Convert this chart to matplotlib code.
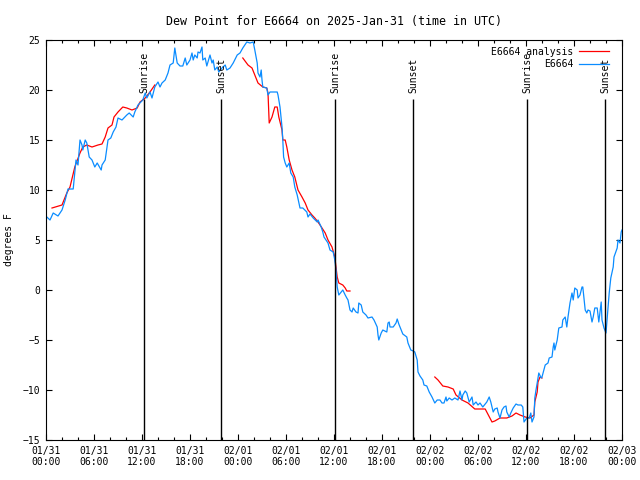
import numpy as np
import pandas as pd
import matplotlib
matplotlib.use('Agg')
import matplotlib.pyplot as plt
import matplotlib.dates as mdates

# hours after 2025-01-31 00:00 UTC, dew point in degrees F
obs_hours = [0.1, 0.5, 0.9, 1.5, 2.0, 2.4, 2.75, 3.4, 3.75, 4.0, 4.25, 4.5, 4.6, 4.9, 5.1, 5.4,
             5.75, 6.1, 6.4, 6.9, 7.0, 7.4, 7.75, 8.1, 8.4, 8.75, 9.0, 9.5, 10.1, 10.4, 10.9, 11.1,
             11.5, 12.1, 12.4, 12.6, 13.0, 13.25, 13.6, 14.0, 14.25, 14.5, 14.9, 15.25, 15.5, 15.9,
             16.1, 16.4, 16.75, 17.1, 17.4, 17.6, 18.0, 18.25, 18.4, 18.6, 18.9, 19.0, 19.25, 19.5,
             19.6, 19.9, 20.1, 20.25, 20.5, 20.75, 20.9, 21.1, 21.4, 21.6, 22.0, 22.4, 22.6, 23.0,
             23.4, 23.9, 24.25, 24.6, 25.1, 25.5, 25.9, 26.1, 26.4, 26.5, 26.75, 26.9, 27.0, 27.1,
             27.6, 27.75, 28.0, 28.4, 28.9, 29.0, 29.25, 29.5, 29.6, 29.7, 29.9, 30.1, 30.4, 30.6,
             30.9, 31.1, 31.4, 31.75, 32.1, 32.6, 32.75, 33.0, 33.4, 33.9, 34.0, 34.4, 34.6, 34.75,
             35.0, 35.25, 35.5, 35.9, 36.1, 36.25, 36.4, 36.6, 36.9, 37.1, 37.4, 37.6, 37.75, 38.0,
             38.25, 38.4, 38.75, 39.0, 39.1, 39.4, 39.6, 40.0, 40.25, 40.75, 41.0, 41.4, 41.5, 41.6,
             41.9, 42.1, 42.6, 42.75, 42.9, 43.0, 43.4, 43.75, 43.9, 44.1, 44.4, 44.6, 45.1, 45.25,
             45.6, 45.9, 46.1, 46.4, 46.5, 46.75, 47.1, 47.25, 47.6, 47.9, 48.25, 48.6, 48.9, 49.25,
             49.5, 49.75, 50.0, 50.1, 50.4, 50.75, 51.1, 51.5, 51.75, 52.0, 52.1, 52.4, 52.6, 52.9,
             53.25, 53.4, 53.75, 54.0, 54.25, 54.6, 55.1, 55.4, 55.6, 55.9, 56.1, 56.4, 56.5, 56.75,
             57.0, 57.25, 57.5, 57.6, 57.9, 58.1, 58.4, 58.75, 59.0, 59.4, 59.6, 59.75, 60.1, 60.4,
             60.6, 60.75, 61.0, 61.1, 61.25, 61.4, 61.6, 61.9, 62.0, 62.4, 62.75, 62.9, 63.25, 63.4,
             63.5, 63.6, 63.9, 64.1, 64.5, 64.6, 64.9, 65.1, 65.25, 65.5, 65.75, 65.9, 66.1, 66.4,
             66.5, 66.75, 67.0, 67.1, 67.4, 67.6, 67.75, 68.0, 68.25, 68.4, 68.6, 68.9, 69.1, 69.4,
             69.5, 69.75, 70.0, 70.1, 70.4, 70.6, 70.9, 71.0, 71.4, 71.5, 71.75, 71.9, 72.0]
obs_dewpt = [7.3, 7.0, 7.7, 7.4, 8.0, 9.0, 10.1, 10.1, 13.0, 12.5, 15.0, 14.5, 14.0, 15.0, 14.7, 13.3,
             13.0, 12.3, 12.7, 12.0, 12.5, 13.0, 15.0, 15.2, 15.8, 16.3, 17.2, 17.0, 17.5, 17.7, 17.3, 17.8,
             18.5, 19.0, 19.7, 19.2, 19.8, 19.2, 20.3, 20.8, 20.3, 20.7, 21.0, 21.7, 22.5, 22.7,
             24.2, 22.7, 22.4, 22.4, 23.2, 22.5, 23.0, 23.7, 23.0, 23.5, 23.2, 23.8, 23.7, 24.3,
             23.0, 23.2, 22.4, 22.8, 23.5, 22.7, 23.0, 22.0, 22.3, 21.8, 22.2, 22.5, 22.0, 22.2,
             22.7, 23.5, 23.7, 24.2, 24.8, 24.7, 24.8, 24.0, 22.7, 21.7, 21.3, 22.0, 21.0, 20.3,
             20.2, 19.5, 19.8, 19.8, 19.8, 19.5, 18.3, 16.3, 15.0, 13.3, 12.7, 12.3, 12.7, 11.7,
             11.3, 10.3, 9.5, 8.2, 8.2, 7.8, 7.3, 7.6, 7.2, 6.8, 7.0, 6.3, 5.8, 5.3,
             5.0, 4.7, 4.0, 3.8, 3.0, 2.0, 0.3, -0.5, -0.2, 0.0, -0.5, -0.8, -1.0, -2.0,
             -2.2, -1.8, -2.2, -2.3, -1.3, -1.5, -2.2, -2.5, -2.8, -2.7, -3.0, -3.7, -4.5, -5.0,
             -4.3, -4.0, -4.2, -3.3, -3.2, -3.7, -3.7, -3.3, -2.9, -3.4, -4.0, -4.4, -4.7, -5.3,
             -6.0, -6.1, -6.2, -7.0, -8.2, -8.6, -9.0, -9.5, -9.6, -10.2, -10.7, -11.3, -11.0, -11.0,
             -11.3, -11.3, -10.7, -11.1, -10.8, -11.0, -10.8, -11.0, -10.1, -11.0, -10.5, -10.1, -10.3, -11.2,
             -10.7, -11.5, -11.2, -11.5, -11.3, -11.7, -11.2, -10.7, -11.2, -12.2, -11.9, -11.8, -12.2, -12.8,
             -12.0, -11.7, -11.6, -12.2, -12.7, -12.3, -11.8, -11.4, -11.5, -11.5, -11.7, -13.2, -12.8, -12.8,
             -12.3, -13.2, -12.7, -10.8, -10.0, -9.3, -8.3, -8.8, -8.7, -7.5, -7.3, -6.8, -6.7, -5.7,
             -5.3, -6.0, -5.0, -3.8, -3.7, -3.0, -2.7, -3.7, -2.7, -1.3, -0.3, -1.0, 0.2, 0.0,
             -0.8, -0.5, 0.3, 0.3, -2.0, -2.3, -2.0, -2.1, -3.2, -2.7, -1.8, -1.8, -3.2, -1.2,
             -3.0, -3.8, -4.3, -3.3, -0.3, 1.2, 2.3, 3.3, 4.2, 5.0, 4.7, 5.8, 6.0]

# analysis series, gaps where there is no analysis (nan)
ana_hours = [0.75, 2.0, 2.6, 3.0, 3.6, 4.25, 4.6, 5.1, 5.75, 6.5, 7.0, 7.4, 7.75, 8.25, 8.5, 9.0,
             9.6, 10.1, 10.75, 11.4, 11.75, 12.4, 13.0, 13.6, 14.0,
             24.6, 25.25, 25.75, 26.1, 26.5, 27.1, 27.6, 27.75, 27.9, 28.25, 28.6, 28.9, 29.1, 29.5,
             29.6, 29.9, 30.1, 30.4, 30.75, 31.1, 31.5, 32.0, 32.4, 32.75, 33.25, 33.6, 34.0, 34.5,
             34.9, 35.25, 35.75, 36.1, 36.25, 36.4, 36.6, 37.1, 37.4, 37.6, 38.0, 38.5,
             48.6, 49.0, 49.6, 50.25, 50.9, 51.25, 52.0, 52.75, 53.6, 54.9, 55.75, 56.1, 56.75, 57.6,
             58.25, 58.75, 59.25, 59.9, 60.5, 61.0, 61.1, 61.4, 61.5, 61.75, 62.0]
ana_dewpt = [8.2, 8.5, 9.7, 10.3, 12.3, 13.7, 14.3, 14.5, 14.3, 14.5, 14.6, 15.3, 16.2, 16.5, 17.3, 17.8,
             18.3, 18.2, 18.0, 18.2, 18.8, 19.2, 19.8, 20.5, np.nan,
             23.2, 22.5, 22.2, 21.5, 20.7, 20.3, 20.2, 19.7, 16.7, 17.3, 18.3, 18.3, 17.3, 16.0,
             15.0, 15.0, 14.3, 13.0, 12.0, 11.3, 10.0, 9.3, 8.7, 8.0, 7.5, 7.2, 6.8, 6.2,
             5.7, 5.0, 4.3, 3.3, 2.3, 1.3, 0.7, 0.5, 0.2, -0.1, -0.1, np.nan,
             -8.7, -9.0, -9.6, -9.7, -9.9, -10.5, -11.0, -11.3, -11.9, -11.9, -13.2, -13.1, -12.8, -12.8,
             -12.6, -12.3, -12.5, -12.7, -12.8, -12.5, -11.2, -10.2, -9.2, -8.7, -8.8]

sun_hours = [12.25, 21.875, 36.125, 45.875, 60.125, 69.875]
sun_names = ['Sunrise', 'Sunset', 'Sunrise', 'Sunset', 'Sunrise', 'Sunset']

base = pd.Timestamp('2025-01-31 00:00')
def to_time(h):
    return base + pd.to_timedelta(np.array(h), unit='h')

plt.rcParams['font.family'] = 'DejaVu Sans Mono'
plt.rcParams['font.size'] = 7

fig = plt.figure(figsize=(6.4, 4.8), dpi=100)
ax = fig.add_axes([46/640, 40/480, 576/640, 400/480])

ax.plot(to_time(ana_hours), ana_dewpt, color='#ff0000', lw=0.9, label='E6664 analysis')
ax.plot(to_time(obs_hours), obs_dewpt, color='#0a8cff', lw=0.9, label='E6664')

for h, name in zip(sun_hours, sun_names):
    t = to_time([h])[0]
    ax.vlines(t, -15, 19.1, color='black', lw=1)
    ax.text(t, 19.7, name, rotation=90, ha='center', va='bottom')

ax.set_xlim(base, base + pd.Timedelta(hours=72))
ax.set_ylim(-15, 25)
ax.set_yticks(np.arange(-15, 26, 5))
ax.xaxis.set_major_locator(mdates.HourLocator(byhour=[0, 6, 12, 18]))
ax.xaxis.set_minor_locator(mdates.HourLocator(byhour=range(0, 24, 2)))
ax.xaxis.set_major_formatter(mdates.DateFormatter('%m/%d\n%H:%M'))
ax.tick_params(which='both', direction='in', top=True, right=True, width=0.8)
ax.tick_params(which='major', length=4.5, pad=4)
ax.tick_params(which='minor', length=2.5)
for s in ax.spines.values():
    s.set_linewidth(0.8)

ax.set_title('Dew Point for E6664 on 2025-Jan-31 (time in UTC)', pad=11)
ax.set_ylabel('degrees F', labelpad=6)

ax.legend(loc='upper right', frameon=False, markerfirst=False, handlelength=3.1,
          borderaxespad=0.3, labelspacing=0.25, handletextpad=0.6,
          bbox_to_anchor=(0.99, 1.0))

fig.savefig('out.png', dpi=100)
